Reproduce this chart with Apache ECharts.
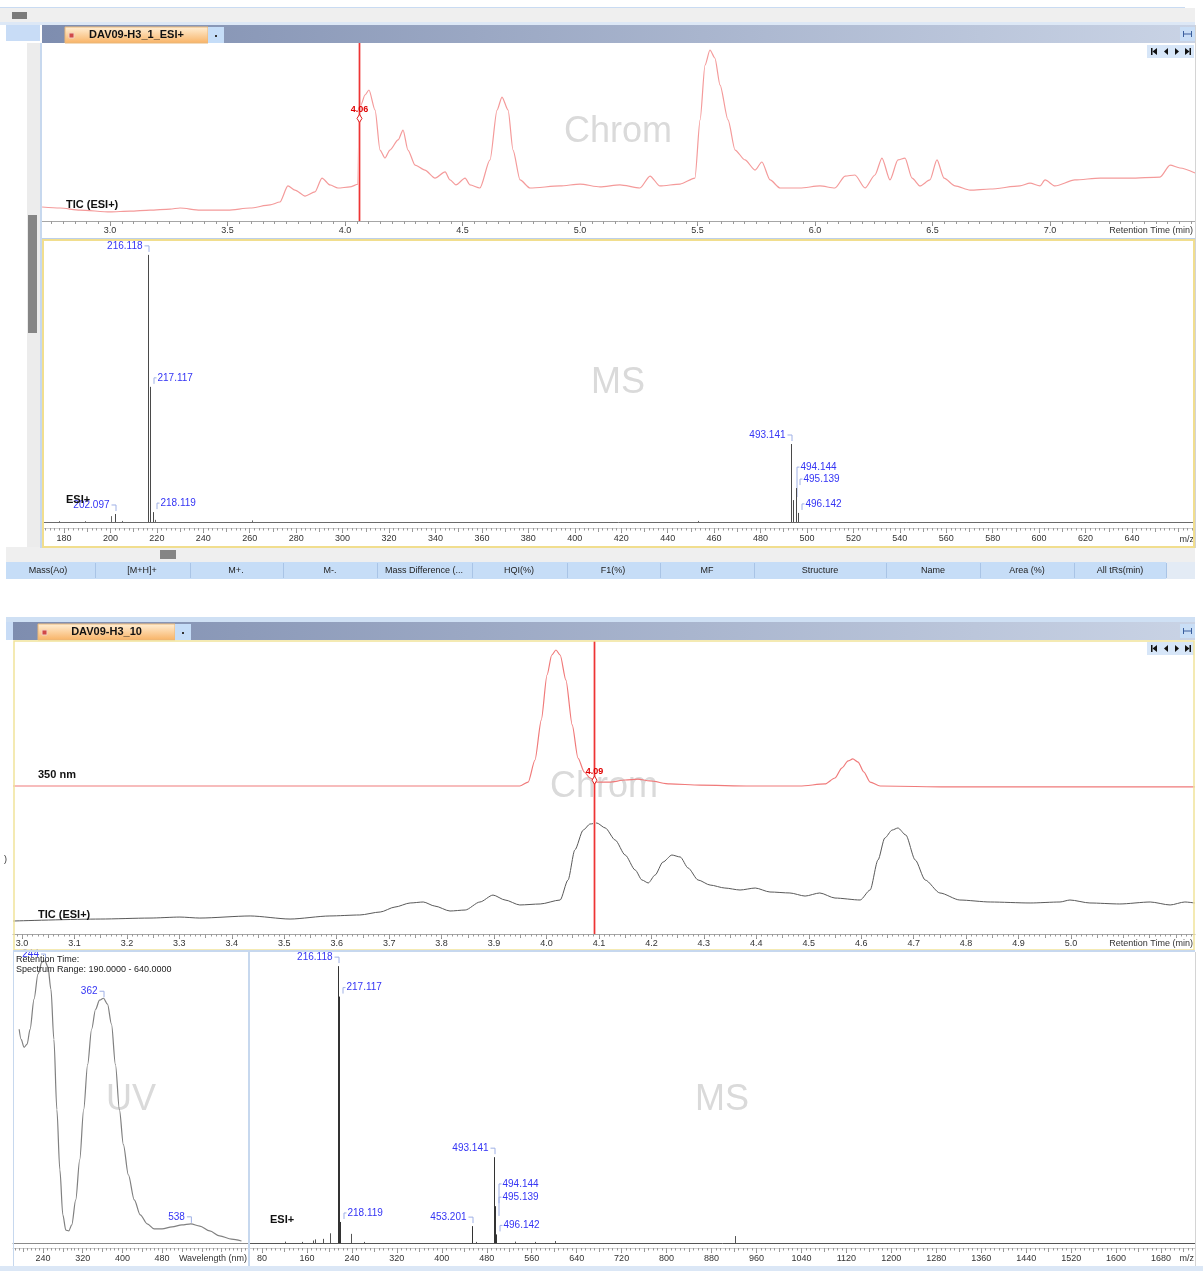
<!DOCTYPE html>
<html><head><meta charset="utf-8">
<script src="https://cdn.jsdelivr.net/npm/echarts@6/dist/echarts.min.js"></script>
<style>html,body{margin:0;padding:0;background:#fff}#main{width:1203px;height:1271px}</style>
</head><body><div id="main"></div>
<script>
// ---------- Run DAV09-H3_1_ESI+ : TIC (ESI+), relative intensity (%) ----------
const tic1Time = [
  2.711,2.787,2.872,3.000,3.085,3.170,3.255,3.298,3.383,3.502,
  3.596,3.681,3.723,3.757,3.787,3.830,3.872,3.902,3.936,3.970,
  4.021,4.055,4.060,4.068,4.085,4.102,4.128,4.149,4.170,4.191,4.226,
  4.247,4.268,4.298,4.340,4.383,4.426,4.447,4.472,4.511,4.532,
  4.574,4.617,4.647,4.668,4.694,4.715,4.745,4.787,4.915,5.000,
  5.085,5.170,5.255,5.298,5.340,5.426,5.489,5.511,5.532,5.553,
  5.574,5.596,5.630,5.660,5.702,5.745,5.774,5.809,5.851,5.936,
  6.021,6.085,6.128,6.170,6.213,6.255,6.285,6.319,6.353,6.383,
  6.413,6.447,6.489,6.519,6.549,6.596,6.660,6.745,6.872,6.915,
  6.957,6.979,7.021,7.106,7.213,7.340,7.468,7.511,7.553,7.617];
const tic1Int = [
  8.2,7.6,6.4,5.3,5.8,6.4,7.0,7.6,6.4,6.4,
  7.6,9.4,11.1,20.5,18.1,14.6,17.0,25.1,21.1,19.3,
  19.9,21.5,60.0,68.0,73.7,76.6,64.9,41.5,36.8,41.5,47.4,
  53.2,41.5,32.7,29.8,25.1,28.7,24.0,21.1,25.1,21.1,
  19.3,35.7,64.9,72.5,64.9,41.5,24.0,19.3,20.5,21.6,
  19.9,21.1,19.3,26.3,20.5,21.6,25.1,59.1,91.2,100,
  95.3,79.5,59.1,41.5,35.7,29.8,34.5,24.0,19.3,19.3,
  20.5,19.3,26.3,26.9,19.3,26.9,36.8,24.0,35.7,36.8,
  25.1,20.5,24.0,35.7,25.1,20.5,18.1,18.7,20.5,22.2,
  20.5,24.0,20.5,24.0,25.1,25.1,25.7,32.7,31.0,28.1];
const cursor1 = 4.06;

// Mass spectrum at 4.06 min (ESI+), relative abundance (%)
const ms1PeakMz  = [202.097, 216.118, 217.117, 218.119, 493.141, 494.144, 495.139, 496.142];
const ms1PeakInt = [3.0, 100, 50.6, 3.7, 29.2, 8.2, 12.7, 3.4];
const ms1MinorMz  = [178.0, 189.0, 200.1, 204.9, 219.1, 261.0, 453.2];
const ms1MinorInt = [0.3, 0.3, 2.2, 0.4, 0.8, 0.6, 0.4];

// ---------- Run DAV09-H3_10 : 350 nm and TIC (ESI+) ----------
const uv350Time = [2.983,3.949,3.965,3.978,3.990,4.001,4.010,4.018,4.026,4.037,
  4.049,4.060,4.072,4.083,4.096,4.120,4.150,4.174,4.197,4.235,
  4.293,4.388,4.483,4.531,4.550,4.563,4.575,4.584,4.594,4.605,
  4.617,4.636,4.769,5.055,5.236];
const uv350Int = [0,0,2.9,19.1,48.5,81.6,96.3,100,96.3,77.9,
  44.9,20.6,10.3,5.9,2.9,2.9,4.4,5.1,3.7,1.5,
  0.7,0,0,1.5,5.9,13.2,18.4,19.9,17.6,10.3,
  2.9,0,-0.7,-0.7,-0.7];
const tic2Time = [2.983,3.149,3.244,3.301,3.339,3.435,3.511,3.587,3.644,3.683,
  3.711,3.740,3.765,3.787,3.816,3.845,3.873,3.898,3.921,3.949,
  3.988,4.026,4.041,4.054,4.070,4.083,4.096,4.112,4.131,4.150,
  4.169,4.182,4.194,4.207,4.222,4.239,4.255,4.270,4.289,4.312,
  4.340,4.369,4.398,4.426,4.464,4.493,4.521,4.550,4.598,4.617,
  4.632,4.645,4.659,4.670,4.685,4.703,4.722,4.750,4.788,4.846,
  4.922,4.979,4.998,5.036,5.093,5.151,5.189,5.217,5.236];
const tic2Int = [10.9,12.7,13.6,14.5,13.6,15.5,12.7,15.5,16.4,19.1,
  23.6,27.3,28.2,24.5,20.0,20.9,28.2,34.5,30.0,25.5,
  26.4,30.0,48.2,75.5,93.6,99.1,100,95.5,84.5,70.9,
  57.3,48.2,45.5,52.7,64.5,70.9,69.1,59.1,48.2,43.6,
  40.9,39.1,40.9,37.3,36.4,33.6,36.4,31.8,30.0,39.1,
  66.4,86.4,93.6,95.5,89.1,66.4,48.2,36.4,30.0,28.2,
  27.3,28.2,30.0,27.3,26.4,28.2,25.5,28.2,27.3];
const cursor2 = 4.09;

// UV spectrum (190-640 nm), relative absorbance (%)
const uvNm  = [192,196,202,208,214,222,230,238,244,250,256,262,268,274,280,286,292,298,306,314,
  322,330,338,346,354,362,370,378,386,394,402,412,424,436,450,464,480,500,520,538,
  556,576,596,620,640];
const uvAbs = [75.8,72.2,69.4,70.5,75.8,86.5,95.4,99.6,100,97.9,90.0,72.2,47.3,26.0,10.0,4.6,4.3,6.4,15.3,29.5,
  47.3,63.3,75.8,82.9,86.1,86.8,84.7,77.6,63.3,47.3,34.9,24.2,15.3,10.0,6.8,5.0,5.0,5.7,6.4,6.8,
  6.0,4.3,2.5,1.4,0.7];
const uvMaxima = [244, 362, 538];

// Mass spectrum at 4.09 min (ESI+), relative abundance (%)
const ms2PeakMz  = [216.118, 217.117, 218.119, 453.201, 493.141, 494.144, 495.139, 496.142];
const ms2PeakInt = [100, 89.0, 7.6, 6.1, 31.0, 8.7, 13.3, 3.1];
const ms2MinorMz  = [121, 152, 171, 175, 188, 201, 238, 262, 460, 531, 566, 601, 922];
const ms2MinorInt = [0.5, 0.4, 0.9, 1.3, 1.5, 3.5, 3.3, 0.4, 0.4, 0.5, 0.4, 0.7, 2.5];

// Axis tick labels
const rtLabels1 = [3.0, 3.5, 4.0, 4.5, 5.0, 5.5, 6.0, 6.5, 7.0];
const mzLabels1 = [180,200,220,240,260,280,300,320,340,360,380,400,420,440,460,480,500,520,540,560,580,600,620,640];
const rtLabels2 = [3.0,3.1,3.2,3.3,3.4,3.5,3.6,3.7,3.8,3.9,4.0,4.1,4.2,4.3,4.4,4.5,4.6,4.7,4.8,4.9,5.0];
const nmLabels  = [240, 320, 400, 480];
const mzLabels2 = [80,160,240,320,400,480,560,640,720,800,880,960,1040,1120,1200,1280,1360,1440,1520,1600,1680];

// ---------------------------------------------------------------------------
const FONT = "Arial, 'Liberation Sans', sans-serif";
const LABEL_BLUE = '#3434f4';
const BRACKET = '#9fb0e6';
const CURSOR_RED = '#ee3434';
const CURSOR_HALO = '#f8b4b4';

function stepValues(min, max, step) {
  const out = [];
  for (let k = Math.ceil(min / step - 1e-9); k * step <= max + 1e-9; k++) out.push(+(k * step).toFixed(6));
  return out;
}
function interp(xs, ys, x) {
  for (let i = 1; i < xs.length; i++) {
    if (xs[i] >= x) { const f = (x - xs[i - 1]) / (xs[i] - xs[i - 1]); return ys[i - 1] + f * (ys[i] - ys[i - 1]); }
  }
  return ys[ys.length - 1];
}
const pairs = (xs, ys) => xs.map((x, i) => [x, ys[i]]);

// x axes: a data axis plus stacked tick layers sharing the same range
const xAxes = [];
function addXAxes(grid, min, max, spec) {
  const base = { type: 'value', gridIndex: grid, min, max, position: 'bottom', splitLine: { show: false } };
  const dataIdx = xAxes.length;
  xAxes.push(Object.assign({}, base, {
    axisLine: { show: !!spec.baseline, onZero: false, lineStyle: { color: spec.baseline || '#000', width: 1 } },
    axisTick: { show: false }, axisLabel: { show: false }
  }));
  xAxes.push(Object.assign({}, base, {
    offset: spec.offset,
    axisLine: { show: true, onZero: false, lineStyle: { color: spec.line, width: 1 } },
    axisTick: { show: true, length: 5, customValues: spec.labels, lineStyle: { color: '#8a8a8a' } },
    axisLabel: { show: true, customValues: spec.labels, formatter: spec.fmt, margin: spec.margin,
      fontSize: 9, color: '#333', fontFamily: FONT }
  }));
  spec.tiers.forEach(([step, len]) => {
    xAxes.push(Object.assign({}, base, {
      offset: spec.offset,
      axisLine: { show: false, onZero: false },
      axisTick: { show: true, length: len, customValues: stepValues(min, max, step), lineStyle: { color: '#9a9a9a' } },
      axisLabel: { show: false }
    }));
  });
  return dataIdx;
}

const ax0 = addXAxes(0, 2.7106, 7.617, { offset: 0, line: '#a6a6a6', labels: rtLabels1, fmt: v => v.toFixed(1), margin: 5, tiers: [[0.05, 3]] });
const ax1 = addXAxes(1, 170.52, 667.14, { baseline: '#6a6a6a', offset: 6, line: '#cfcfcf', labels: mzLabels1, fmt: v => String(v), margin: 6, tiers: [[10, 4], [2, 2.5]] });
const ax2 = addXAxes(2, 2.9828, 5.2364, { offset: 0, line: '#a6a6a6', labels: rtLabels2, fmt: v => v.toFixed(1), margin: 5, tiers: [[0.05, 4], [0.01, 2.5]] });
const ax3 = addXAxes(3, 179.6, 653.1, { baseline: '#8a8a8a', offset: 5, line: '#cfcfcf', labels: nmLabels, fmt: v => String(v), margin: 6, tiers: [[40, 4], [8, 2.5]] });
const ax4 = addXAxes(4, 58.64, 1740.4, { baseline: '#555', offset: 5, line: '#cfcfcf', labels: mzLabels2, fmt: v => String(v), margin: 6, tiers: [[40, 4], [8, 2.5]] });

const yAxes = [
  { type: 'value', gridIndex: 0, min: 0, max: 104.1, show: false },
  { type: 'value', gridIndex: 1, min: 0, max: 103.7, show: false },
  { type: 'value', gridIndex: 2, min: -108.8, max: 106.6, show: false },
  { type: 'value', gridIndex: 2, min: -0.9, max: 265.5, show: false },
  { type: 'value', gridIndex: 3, min: 0, max: 103.2, show: false },
  { type: 'value', gridIndex: 4, min: 0, max: 105.1, show: false }
];

// peak label layouts: which side of the stick the label sits, and extra lift in px
const ms1Side = ['left', 'left', 'right', 'right', 'left', 'right', 'right', 'right'];
const ms1Lift = [0, 0, 0, 0, 0, 24, 0, 0];
const ms2Side = ['left', 'right', 'right', 'left', 'left', 'right', 'right', 'right'];
const ms2Lift = [0, 0, 0, 0, 0, 26, 0, 0];

function labelEls(x, top, text, side, lift, gap) {
  const ty = top - gap - lift;
  const yEnd = Math.max(ty + 6, top - 3);
  const style = { fill: LABEL_BLUE, font: '10px ' + FONT, textVerticalAlign: 'middle', verticalAlign: 'middle' };
  if (side === 'left') {
    return [
      { type: 'polyline', shape: { points: [[x - 4, ty], [x + 0.5, ty], [x + 0.5, yEnd]] }, style: { stroke: BRACKET, fill: 'none', lineWidth: 1 } },
      { type: 'text', style: Object.assign({ text, x: x - 6, y: ty, textAlign: 'right', align: 'right' }, style) }
    ];
  }
  return [
    { type: 'polyline', shape: { points: [[x + 3.5, yEnd], [x + 3.5, ty], [x + 6, ty]] }, style: { stroke: BRACKET, fill: 'none', lineWidth: 1 } },
    { type: 'text', style: Object.assign({ text, x: x + 7, y: ty, textAlign: 'left', align: 'left' }, style) }
  ];
}

function stickRenderer(color, sides, lifts) {
  return function (params, api) {
    const mz = api.value(0), h = api.value(1);
    const top = api.coord([mz, h]), base = api.coord([mz, 0]);
    const x = Math.round(top[0]) + 0.5;
    const children = [{ type: 'line', shape: { x1: x, y1: base[1], x2: x, y2: top[1] }, style: { stroke: color, lineWidth: 1 } }];
    if (sides) {
      children.push.apply(children, labelEls(x, top[1], mz.toFixed(3), sides[params.dataIndex], lifts[params.dataIndex], 9));
    }
    return { type: 'group', children };
  };
}

function uvLabelRenderer(params, api) {
  const p = api.coord([api.value(0), api.value(1)]);
  return { type: 'group', children: labelEls(p[0], p[1], String(api.value(0)), 'left', 0, 7) };
}

// retention-time cursor: red vertical line across the plot, diamond where it meets the trace
function cursorRenderer(params, api) {
  const t = api.value(0);
  const p = api.coord([t, api.value(1)]);
  const cs = params.coordSys;
  const x = Math.round(p[0]);
  return { type: 'group', children: [
    { type: 'rect', shape: { x: x - 1, y: cs.y, width: 3, height: cs.height }, style: { fill: CURSOR_HALO } },
    { type: 'rect', shape: { x: x, y: cs.y, width: 1, height: cs.height }, style: { fill: CURSOR_RED } },
    { type: 'polygon', shape: { points: [[x + 0.5, p[1] - 4], [x + 3, p[1]], [x + 0.5, p[1] + 4], [x - 2, p[1]]] },
      style: { fill: '#fff', stroke: '#e02020', lineWidth: 1 } },
    { type: 'text', style: { text: t.toFixed(2), x: x + 0.5, y: p[1] - 9, fill: '#e00000', font: 'bold 9px ' + FONT,
      textAlign: 'center', align: 'center', textVerticalAlign: 'middle', verticalAlign: 'middle' } }
  ] };
}

const series = [
  { type: 'line', name: 'TIC (ESI+)', xAxisIndex: ax0, yAxisIndex: 0, data: pairs(tic1Time, tic1Int),
    showSymbol: false, smooth: 0.25, smoothMonotone: 'x', lineStyle: { color: '#f49a9a', width: 1.2 }, z: 3 },
  { type: 'custom', xAxisIndex: ax0, yAxisIndex: 0, data: [[cursor1, interp(tic1Time, tic1Int, cursor1)]], renderItem: cursorRenderer, z: 6 },
  { type: 'custom', xAxisIndex: ax1, yAxisIndex: 1, data: pairs(ms1MinorMz, ms1MinorInt), renderItem: stickRenderer('#666'), z: 3 },
  { type: 'custom', xAxisIndex: ax1, yAxisIndex: 1, data: pairs(ms1PeakMz, ms1PeakInt), renderItem: stickRenderer('#4a4a4a', ms1Side, ms1Lift), z: 4 },
  { type: 'line', name: '350 nm', xAxisIndex: ax2, yAxisIndex: 2, data: pairs(uv350Time, uv350Int),
    showSymbol: false, smooth: 0.25, smoothMonotone: 'x', lineStyle: { color: '#f07a7a', width: 1.2 }, z: 3 },
  { type: 'line', name: 'TIC (ESI+) 2', xAxisIndex: ax2, yAxisIndex: 3, data: pairs(tic2Time, tic2Int),
    showSymbol: false, smooth: 0.25, smoothMonotone: 'x', lineStyle: { color: '#5a5a5a', width: 1 }, z: 3 },
  { type: 'custom', xAxisIndex: ax2, yAxisIndex: 2, data: [[cursor2, interp(uv350Time, uv350Int, cursor2)]], renderItem: cursorRenderer, z: 6 },
  { type: 'line', name: 'UV', xAxisIndex: ax3, yAxisIndex: 4, data: pairs(uvNm, uvAbs),
    showSymbol: false, smooth: 0.3, smoothMonotone: 'x', lineStyle: { color: '#808080', width: 1.2 }, z: 3 },
  { type: 'custom', xAxisIndex: ax3, yAxisIndex: 4, data: uvMaxima.map(nm => [nm, interp(uvNm, uvAbs, nm)]), renderItem: uvLabelRenderer, z: 4 },
  { type: 'custom', xAxisIndex: ax4, yAxisIndex: 5, data: pairs(ms2MinorMz, ms2MinorInt), renderItem: stickRenderer('#555'), z: 3 },
  { type: 'custom', xAxisIndex: ax4, yAxisIndex: 5, data: pairs(ms2PeakMz, ms2PeakInt), renderItem: stickRenderer('#333', ms2Side, ms2Lift), z: 4 }
];

// ---------- window chrome ----------
function rect(x, y, w, h, fill, z, stroke, lw) {
  return { type: 'rect', silent: true, z: z == null ? -10 : z, shape: { x, y, width: w, height: h },
    style: { fill: fill || 'none', stroke: stroke || null, lineWidth: lw || 1 } };
}
function txt(x, y, s, o) {
  o = o || {};
  const a = o.align || 'left';
  return { type: 'text', silent: true, x, y, z: o.z == null ? 5 : o.z,
    style: { text: s, font: (o.weight || 'normal') + ' ' + (o.size || 9) + 'px ' + FONT, fill: o.color || '#222',
      textAlign: a, align: a, textVerticalAlign: 'middle', verticalAlign: 'middle' } };
}
function poly(points, fill, z) { return { type: 'polygon', silent: true, z: z == null ? 6 : z, shape: { points }, style: { fill } }; }
const hGrad = (c0, c1) => ({ type: 'linear', x: 0, y: 0, x2: 1, y2: 0, colorStops: [{ offset: 0, color: c0 }, { offset: 1, color: c1 }] });
const vGrad = (c0, c1) => ({ type: 'linear', x: 0, y: 0, x2: 0, y2: 1, colorStops: [{ offset: 0, color: c0 }, { offset: 1, color: c1 }] });

function tabBar(x0, y, label, tabX, tabW) {
  return [
    rect(x0, y, 1195 - x0, 18, hGrad('#7e8daf', '#c9d3e5')),
    rect(tabX, y + 2, tabW, 16, vGrad('#fff0d8', '#f8b264'), -9, '#e9b77a'),
    rect(tabX + 4, y + 8, 5, 5, '#d04848', -8, '#f4d0c0'),
    txt(tabX + tabW / 2, y + 10, label, { weight: 'bold', size: 11, color: '#111', align: 'center' }),
    rect(tabX + tabW, y + 2, 16, 16, '#c5ddf8', -9),
    rect(tabX + tabW + 7, y + 10, 2, 2, '#333', -8),
    rect(1180, y + 2, 15, 14, '#c9def6', -9),
    rect(1183, y + 8.5, 9, 1, '#3a5f9e', -8),
    rect(1183, y + 6, 1, 6, '#3a5f9e', -8),
    rect(1191, y + 6, 1, 6, '#3a5f9e', -8)
  ];
}
function navButtons(y) {
  const c = '#111';
  return [
    rect(1147, y, 47, 13, '#d7e6f8', 5),
    rect(1151, y + 3, 1.5, 7, c, 6), poly([[1157, y + 3], [1157, y + 10], [1152.5, y + 6.5]], c),
    poly([[1168, y + 3], [1168, y + 10], [1164, y + 6.5]], c),
    poly([[1175, y + 3], [1175, y + 10], [1179, y + 6.5]], c),
    poly([[1185, y + 3], [1185, y + 10], [1189.5, y + 6.5]], c), rect(1189.5, y + 3, 1.5, 7, c, 6)
  ];
}

const headerCols = [
  ['Mass(Ao)', 48], ['[M+H]+', 142], ['M+.', 236], ['M-.', 330], ['Mass Difference (...', 424],
  ['HQI(%)', 519], ['F1(%)', 613], ['MF', 707], ['Structure', 820], ['Name', 933], ['Area (%)', 1027], ['All tRs(min)', 1120]];
const headerSeps = [95, 190, 283, 377, 472, 567, 660, 754, 886, 980, 1074, 1166];

const graphics = [
  // top window frame
  rect(0, 7, 1185, 1, '#c9dbf2'),
  rect(0, 8, 1195, 14, '#efefef'),
  rect(12, 12, 15, 7, '#7b7b7b', -9),
  rect(0, 22, 1195, 3, '#dde8f6'),
  rect(6, 25, 34, 16, '#c8dcf6'),
  ...tabBar(42, 25, 'DAV09-H3_1_ESI+', 65, 143),
  rect(27, 43, 13, 505, '#ececec'),
  rect(28, 215, 9, 118, '#858585', -9),
  rect(40, 43, 2, 505, '#c7d8ee', 40),
  rect(1195, 25, 1, 523, '#d4d4d4', 40),
  rect(42, 238, 1153, 1, '#bcd0ea', 40),
  rect(43, 240, 1151, 307, null, 40, '#f1de8e', 2),
  rect(6, 547, 1189, 15, '#efefef'),
  rect(160, 550, 16, 9, '#858585', -9),
  rect(6, 562, 1189, 17, '#c6ddf7'),
  rect(1166, 562, 29, 17, '#e3ebf5', -9),
  ...headerSeps.map(x => rect(x, 563, 1, 15, '#a9c4e6', -9)),
  ...headerCols.map(([s, x]) => txt(x, 571, s, { align: 'center', size: 9, color: '#222' })),
  ...navButtons(45),
  txt(618, 132, 'Chrom', { align: 'center', size: 36, color: '#dadada', z: -1 }),
  txt(618, 383, 'MS', { align: 'center', size: 36, color: '#dadada', z: -1 }),
  txt(66, 205, 'TIC (ESI+)', { weight: 'bold', size: 11, color: '#111' }),
  txt(66, 500, 'ESI+', { weight: 'bold', size: 11, color: '#111' }),
  txt(1193, 231, 'Retention Time (min)', { align: 'right', size: 9, color: '#333' }),
  txt(1194, 540, 'm/z', { align: 'right', size: 9, color: '#333' }),

  // bottom window frame
  rect(6, 617, 1189, 5, '#cfe0f4'),
  rect(6, 622, 7, 18, '#c8dcf6'),
  ...tabBar(13, 622, 'DAV09-H3_10', 38, 137),
  rect(14, 641, 1180, 309, null, 40, '#f1e39a', 1.5),
  rect(13, 950, 1182, 2, '#c7d8ee', 40),
  rect(13, 952, 1, 315, '#c7d8ee', 40),
  rect(248, 952, 2, 315, '#c7d8ee', 40),
  rect(1195, 952, 1, 315, '#d4d4d4', 40),
  rect(0, 1266, 1203, 5, '#dbe7f6', 40),
  ...navButtons(642),
  txt(4, 860, ')', { size: 9, color: '#333' }),
  txt(604, 787, 'Chrom', { align: 'center', size: 36, color: '#dadada', z: -1 }),
  txt(131, 1100, 'UV', { align: 'center', size: 36, color: '#dadada', z: -1 }),
  txt(722, 1100, 'MS', { align: 'center', size: 36, color: '#dadada', z: -1 }),
  txt(38, 775, '350 nm', { weight: 'bold', size: 11, color: '#111' }),
  txt(38, 915, 'TIC (ESI+)', { weight: 'bold', size: 11, color: '#111' }),
  txt(1193, 944, 'Retention Time (min)', { align: 'right', size: 9, color: '#333' }),
  txt(16, 960, 'Retention Time:', { size: 9, color: '#222' }),
  txt(16, 970, 'Spectrum Range: 190.0000 - 640.0000', { size: 9, color: '#222' }),
  txt(213, 1259, 'Wavelength (nm)', { align: 'center', size: 9, color: '#333' }),
  txt(270, 1220, 'ESI+', { weight: 'bold', size: 11, color: '#111' }),
  txt(1194, 1259, 'm/z', { align: 'right', size: 9, color: '#333' })
];

const chart = echarts.init(document.getElementById('main'), null, { renderer: 'canvas' });
chart.setOption({
  backgroundColor: '#ffffff',
  animation: false,
  grid: [
    { left: 42, top: 43, width: 1153, height: 178 },
    { left: 42, top: 245, width: 1153, height: 277 },
    { left: 13, top: 641, width: 1182, height: 293 },
    { left: 13, top: 952, width: 235, height: 291 },
    { left: 250, top: 952, width: 945, height: 291 }
  ],
  xAxis: xAxes,
  yAxis: yAxes,
  series,
  graphic: { elements: graphics }
});
</script></body></html>
